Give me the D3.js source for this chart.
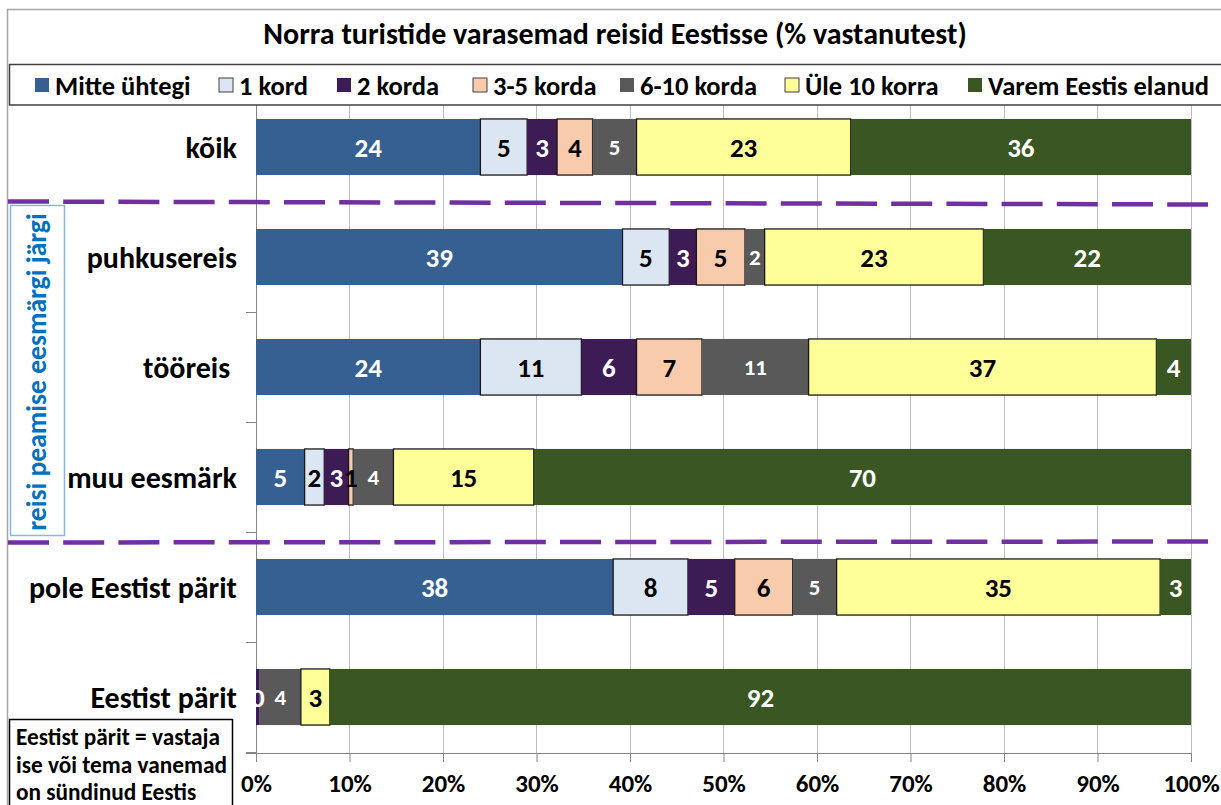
<!DOCTYPE html>
<html>
<head>
<meta charset="utf-8">
<script src="https://cdn.jsdelivr.net/npm/d3@7"></script>
<style>
  html, body { margin: 0; padding: 0; background: #fff; }
  svg { display: block; font-family: Carlito, Lato, sans-serif; font-weight: 700; }
  .cat { white-space: pre; }
</style>
</head>
<body>
<svg id="chart" width="1221" height="805"></svg>
<script>
// ---- data ----
const title = "Norra turistide varasemad reisid Eestisse (% vastanutest)";
const categories = ["kõik", "puhkusereis", "tööreis ", "muu eesmärk", "pole Eestist pärit", "Eestist pärit"];
const seriesNames = ["Mitte ühtegi", "1 kord", "2 korda", "3-5 korda", "6-10 korda", "Üle 10 korra", "Varem Eestis elanud"];
const mitteUhtegi = [24.0, 39.2, 24.0, 5.2, 38.2, 0];
const kord1      = [5.0, 5.0, 10.8, 2.1, 8.0, 0];
const korda2     = [3.2, 2.9, 5.9, 2.6, 5.0, 0.4];
const korda3_5   = [3.8, 5.2, 7.0, 0.5, 6.2, 0];
const korda6_10  = [4.7, 2.1, 11.4, 4.3, 4.7, 4.4];
const yle10      = [22.9, 23.4, 37.2, 15.0, 34.6, 3.1];
const varem      = [36.4, 22.2, 3.7, 70.3, 3.3, 92.1];
const tickValues = [0, 10, 20, 30, 40, 50, 60, 70, 80, 90, 100];
const tickLabels = ["0%", "10%", "20%", "30%", "40%", "50%", "60%", "70%", "80%", "90%", "100%"];
const groupLabel = "reisi peamise eesmärgi järgi";
const noteLines = ["Eestist pärit = vastaja", "ise või tema vanemad", "on sündinud Eestis"];

// ---- styles ----
const colors = ["#376092", "#DCE6F2", "#3D1B54", "#F8CBAD", "#595959", "#FFFF99", "#3A5723"];
const labelColors = ["#fff", "#000", "#fff", "#000", "#fff", "#000", "#fff"];
const bordered = [false, true, false, true, false, true, false];
const labelSizes = [27, 27, 27, 27, 23, 27, 27];

const seriesValues = [mitteUhtegi, kord1, korda2, korda3_5, korda6_10, yle10, varem];
const table = categories.map((c, i) => {
  const row = { category: c };
  seriesNames.forEach((s, j) => row[s] = seriesValues[j][i]);
  return row;
});
const stacked = d3.stack().keys(seriesNames)(table);

const svg = d3.select("#chart");
const x = d3.scaleLinear().domain([0, 100]).range([256, 1191]);
const y = d3.scaleBand().domain(categories).range([92, 752]).paddingInner(0.49).paddingOuter(0.245);

// outer border
svg.append("rect").attr("x", 7.5).attr("y", 9.5).attr("width", 1230).attr("height", 820)
  .attr("fill", "#fff").attr("stroke", "#A6A6A6").attr("stroke-width", 1.5);

// title
svg.append("text").attr("x", 615).attr("y", 33).attr("dy", "0.35em")
  .attr("text-anchor", "middle").attr("font-size", 30).attr("fill", "#000").text(title);

// gridlines
svg.append("g").selectAll("line").data(tickValues).join("line")
  .attr("x1", d => x(d)).attr("x2", d => x(d)).attr("y1", 92).attr("y2", 753)
  .attr("stroke", d => d === 0 ? "#868686" : "#BFBFBF").attr("stroke-width", 1).attr("shape-rendering", "crispEdges");

// x axis
const xAxis = d3.axisBottom(x).tickValues(tickValues).tickFormat((d, i) => tickLabels[i]).tickSize(9).tickPadding(12);
const gx = svg.append("g").attr("transform", "translate(0,753)").call(xAxis);
gx.select(".domain").remove();
gx.selectAll(".tick line").attr("stroke", "#868686");
gx.selectAll(".tick text").attr("font-size", 25).attr("font-family", "Carlito, Lato, sans-serif").attr("font-weight", 700).attr("fill", "#000");
svg.append("line").attr("x1", 246).attr("x2", 1191).attr("y1", 753).attr("y2", 753)
  .attr("stroke", "#868686").attr("shape-rendering", "crispEdges");
// category ticks
const bounds = d3.range(categories.length + 1).map(i => 92 + i * y.step());
svg.append("g").selectAll("line").data(bounds).join("line")
  .attr("x1", 246).attr("x2", 256).attr("y1", d => d).attr("y2", d => d)
  .attr("stroke", "#868686").attr("shape-rendering", "crispEdges");

// bars
const layers = svg.append("g").selectAll("g").data(stacked).join("g");
layers.selectAll("rect").data((d, j) => d.map(p => ({ p, j }))).join("rect")
  .attr("x", d => x(d.p[0])).attr("width", d => x(d.p[1]) - x(d.p[0]))
  .attr("y", d => y(d.p.data.category)).attr("height", y.bandwidth())
  .attr("fill", d => colors[d.j])
  .attr("stroke", d => bordered[d.j] && d.p[1] - d.p[0] > 0 ? "#1a1a1a" : "none")
  .attr("stroke-width", 1.3);

// labels
const labels = svg.append("g");
stacked.forEach((layer, j) => {
  labels.selectAll(null).data(layer.filter(p => p[1] - p[0] > 0)).join("text")
    .attr("x", p => (x(p[0]) + x(p[1])) / 2)
    .attr("y", p => y(p.data.category) + y.bandwidth() / 2)
    .attr("dy", "0.36em").attr("text-anchor", "middle")
    .attr("font-size", labelSizes[j]).attr("fill", labelColors[j])
    .text(p => Math.round(p[1] - p[0]));
});

// category labels
svg.append("g").selectAll("text").data(categories).join("text").attr("class", "cat")
  .attr("x", 237).attr("y", d => y(d) + y.bandwidth() / 2).attr("dy", "0.36em")
  .attr("text-anchor", "end").attr("font-size", 30).attr("fill", "#000").text(d => d);

// dashed separators
const dashes = [[8, 201.5, 1208, 204.5], [8, 542.5, 1208, 541.5]];
svg.append("g").selectAll("line").data(dashes).join("line")
  .attr("x1", d => d[0]).attr("y1", d => d[1]).attr("x2", d => d[2]).attr("y2", d => d[3])
  .attr("stroke", "#7030A0").attr("stroke-width", 4.5).attr("stroke-dasharray", "41,14.2");

// legend
const legend = svg.append("g");
legend.append("rect").attr("x", 9.5).attr("y", 64.5).attr("width", 1230).attr("height", 40.5)
  .attr("fill", "#fff").attr("stroke", "#404040").attr("stroke-width", 1.5);
const legendX = [35, 219, 337, 473, 620, 785, 968];
const li = legend.selectAll("g.item").data(seriesNames).join("g").attr("class", "item")
  .attr("transform", (d, i) => `translate(${legendX[i]},85)`);
li.append("rect").attr("x", 0).attr("y", -7).attr("width", 14).attr("height", 14)
  .attr("fill", (d, i) => colors[i]).attr("stroke", (d, i) => bordered[i] ? "#404040" : "none");
li.append("text").attr("x", 20).attr("dy", "0.36em").attr("font-size", 26.5).attr("fill", "#000").text(d => d);

// vertical group label box
svg.append("rect").attr("x", 10.5).attr("y", 205.5).attr("width", 54).attr("height", 330)
  .attr("fill", "#fff").attr("stroke", "#8DB4E2").attr("stroke-width", 1.5);
svg.append("text").attr("transform", "translate(46,372) rotate(-90)")
  .attr("text-anchor", "middle").attr("font-size", 27.6).attr("fill", "#0070C0").text(groupLabel);

// note box
svg.append("rect").attr("x", 9.5).attr("y", 719.5).attr("width", 223).attr("height", 100)
  .attr("fill", "#fff").attr("stroke", "#000").attr("stroke-width", 1.5);
svg.append("g").selectAll("text").data(noteLines).join("text")
  .attr("x", 16).attr("y", (d, i) => 745 + i * 27.5).attr("font-size", 23.3).attr("fill", "#000").text(d => d);
</script>
</body>
</html>
